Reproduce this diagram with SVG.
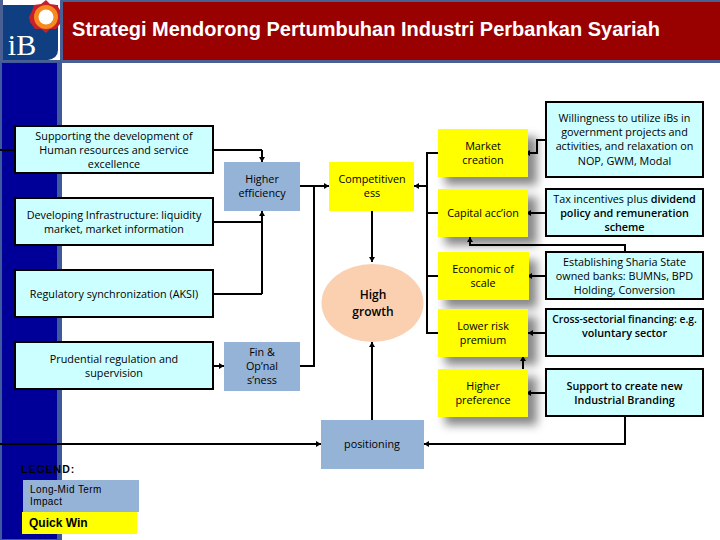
<svg xmlns="http://www.w3.org/2000/svg" width="720" height="540" viewBox="0 0 720 540">
<defs>
<style>
text{font-family:"Open Sans","Noto Sans","Liberation Sans",sans-serif;font-size:10.8px;fill:#000;text-anchor:middle}
.box{fill:#ccffff;stroke:#000;stroke-width:2}
.blue{fill:#95b3d7}
.yel{fill:#ffff00}
.ln{fill:none;stroke:#000;stroke-width:2}
.arr{fill:none;stroke:#000;stroke-width:2;marker-end:url(#a)}
.b{font-weight:600}
</style>
<marker id="a" markerUnits="userSpaceOnUse" markerWidth="6" markerHeight="7" refX="5" refY="3.5" orient="auto"><path d="M0 0.5L5 3.5L0 6.5Z" fill="#000"/></marker>
<filter id="s" x="-30%" y="-30%" width="170%" height="170%"><feGaussianBlur stdDeviation="5"/></filter>
</defs>
<rect width="720" height="540" fill="#fff"/>
<g id="header">
<rect x="0" y="0" width="720" height="63" fill="#4a6094"/>
<rect x="63" y="2" width="657" height="58" fill="#990000"/>
<text x="366" y="36" style="font-family:'Liberation Sans',sans-serif;font-size:20px;font-weight:700;fill:#fff">Strategi Mendorong Pertumbuhan Industri Perbankan Syariah</text>
</g>
<g id="logo">
<rect x="3" y="0" width="57" height="60" fill="#fff"/>
<path d="M3 5H58V50Q58 58 48 60H3Z" fill="#0f3f80"/>
<path d="M46 0L50 4L57 5L60 10V24L56 29L50 29L46 33L41 29L35 29L30 22L29 17L32 11L34 5L41 4Z" fill="#c8202a"/>
<circle cx="46" cy="17" r="12" fill="#f58a1f"/>
<circle cx="46" cy="17" r="7.5" fill="#fff"/>
<text x="22" y="55" style="font-family:'Liberation Serif',serif;font-size:30px;fill:#fff">iB</text>
</g>
<g id="sidebar">
<rect x="0" y="62" width="62" height="478" fill="#3f5a9c"/>
<rect x="2" y="63" width="55" height="476" fill="#000099"/>
</g>
<g id="shadows" filter="url(#s)" fill="#555" opacity=".7">
<rect x="445" y="137" width="92" height="48"/>
<rect x="445" y="197" width="92" height="48"/>
<rect x="445" y="260" width="92" height="48"/>
<rect x="445" y="317" width="92" height="48"/>
<rect x="445" y="377" width="92" height="48"/>
</g>
<g id="connectors">
<path class="ln" d="M0 150H15M213 150H262"/>
<path class="arr" d="M262 150V162"/>
<path class="ln" d="M213 222H262M213 294H262"/>
<path class="arr" d="M262 294V211"/>
<path class="arr" d="M213 366H224"/>
<path class="ln" d="M300 366H314V186"/>
<path class="arr" d="M300 186H329"/>
<path class="arr" d="M372 210V262"/>
<path class="arr" d="M372 420V342"/>
<path class="ln" d="M438 153H427V333H438M427 213H438M427 276H438"/>
<path class="arr" d="M427 186H414"/>
<path class="arr" d="M546 140H537V153H525"/>
<path class="arr" d="M546 213H526"/>
<path class="arr" d="M625 252V245H470V237"/>
<path class="arr" d="M546 276H527"/>
<path class="arr" d="M546 333H528"/>
<path class="arr" d="M523 369V356"/>
<path class="arr" d="M546 393H526"/>
<path class="arr" d="M625 417V444H424"/>
<path class="arr" d="M0 444H321"/>
</g>
<g id="n1"><rect class="box" x="15" y="126" width="198" height="47"/><text x="114" y="140">Supporting the development of</text><text x="114" y="154">Human resources and service</text><text x="114" y="168">excellence</text></g>
<g id="n2"><rect class="box" x="15" y="198" width="198" height="47"/><text x="114" y="219">Developing Infrastructure: liquidity</text><text x="114" y="233">market, market information</text></g>
<g id="n3"><rect class="box" x="15" y="270" width="198" height="47"/><text x="114" y="298">Regulatory synchronization (AKSI)</text></g>
<g id="n4"><rect class="box" x="15" y="342" width="198" height="47"/><text x="114" y="363">Prudential regulation and</text><text x="114" y="377">supervision</text></g>
<g id="higher-efficiency"><rect class="blue" x="224" y="162" width="76" height="49"/><text x="262" y="183">Higher</text><text x="262" y="197">efficiency</text></g>
<g id="fin"><rect class="blue" x="224" y="342" width="76" height="49"/><text x="262" y="356">Fin &amp;</text><text x="262" y="370">Op’nal</text><text x="262" y="384">s’ness</text></g>
<g id="competitiveness"><rect class="yel" x="329" y="162" width="85" height="49"/><text x="372" y="183">Competitiven</text><text x="372" y="197">ess</text></g>
<g id="high-growth"><ellipse cx="372.5" cy="303" rx="51" ry="39" fill="#fad0b0"/><text x="373" y="299" class="b" style="font-size:12px">High</text><text x="373" y="316" class="b" style="font-size:12px">growth</text></g>
<g id="positioning"><rect class="blue" x="321" y="420" width="103" height="49"/><text x="372" y="448">positioning</text></g>
<g id="market"><rect class="yel" x="438" y="129" width="90" height="48"/><text x="483" y="150">Market</text><text x="483" y="164">creation</text></g>
<g id="capital"><rect class="yel" x="438" y="189" width="90" height="48"/><text x="483" y="217">Capital acc’ion</text></g>
<g id="economic"><rect class="yel" x="438" y="252" width="91" height="48"/><text x="483" y="273">Economic of</text><text x="483" y="287">scale</text></g>
<g id="lower"><rect class="yel" x="438" y="309" width="90" height="48"/><text x="483" y="330">Lower risk</text><text x="483" y="344">premium</text></g>
<g id="preference"><rect class="yel" x="438" y="369" width="90" height="48"/><text x="483" y="390">Higher</text><text x="483" y="404">preference</text></g>
<g id="r1"><rect class="box" x="546" y="102" width="157" height="75"/><text x="624.500" y="122">Willingness to utilize iBs in</text><text x="624.500" y="136">government projects and</text><text x="624.500" y="150">activities, and relaxation on</text><text x="624.500" y="165">NOP, GWM, Modal</text></g>
<g id="r2"><rect class="box" x="546" y="189" width="157" height="47"/><text x="624.500" y="203">Tax incentives plus <tspan class="b">dividend</tspan></text><text x="624.500" y="217" class="b">policy and remuneration</text><text x="624.500" y="231" class="b">scheme</text></g>
<g id="r3"><rect class="box" x="546" y="252" width="157" height="47"/><text x="624.500" y="266">Establishing Sharia State</text><text x="624.500" y="280">owned banks: BUMNs, BPD</text><text x="624.500" y="294">Holding, Conversion</text></g>
<g id="r4"><rect class="box" x="546" y="309" width="157" height="47"/><text x="624.500" y="323" class="b" style="font-size:10.300px">Cross-sectorial financing: e.g.</text><text x="624.500" y="337" class="b">voluntary sector</text></g>
<g id="r5"><rect class="box" x="546" y="369" width="157" height="47"/><text x="624.500" y="390" class="b">Support to create new</text><text x="624.500" y="404" class="b">Industrial Branding</text></g>
<g id="legend">
<text x="21" y="473" style="text-anchor:start;font-family:'Liberation Sans',sans-serif;font-size:10.500px;font-weight:700;letter-spacing:1px">LEGEND:</text>
<rect class="blue" x="23" y="480" width="116" height="32"/>
<text x="30" y="493" style="text-anchor:start;font-family:'Liberation Sans',sans-serif;font-size:10px;letter-spacing:.4px">Long-Mid Term</text>
<text x="30" y="505" style="text-anchor:start;font-family:'Liberation Sans',sans-serif;font-size:10px;letter-spacing:.4px">Impact</text>
<rect class="yel" x="22" y="512" width="115" height="22"/>
<text x="29" y="527" style="text-anchor:start;font-family:'Liberation Sans',sans-serif;font-size:12px;font-weight:700">Quick Win</text>
</g>
</svg>
